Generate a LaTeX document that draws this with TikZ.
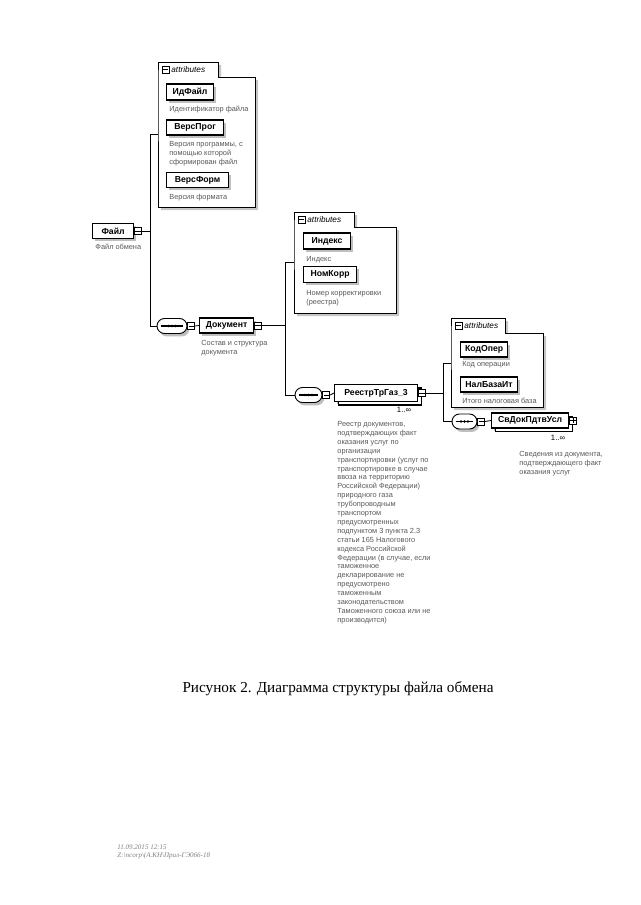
\documentclass[tikz,border=0pt]{standalone}
\usepackage{fontspec}
\setmainfont{Liberation Serif}
\setsansfont{Liberation Sans}
\usetikzlibrary{shapes.misc,shadows}

\newdimen\pxu \pxu=0.03cm

% small +/- square glued to the right of a box
\newcommand{\pmbox}[3]{%
  \node[pmsq] (#1) at (#2) {};
  \draw ([xshift=1.3\pxu]#1.west) -- ([xshift=-1.3\pxu]#1.east);
  \ifx#3+\draw ([yshift=-1.3\pxu]#1.north) -- ([yshift=1.3\pxu]#1.south);\fi
}
% line with three dots inside a sequence symbol
\newcommand{\seqdots}[1]{%
  \draw[line width=0.9pt] ([xshift=4\pxu]#1.west) -- ([xshift=-4\pxu]#1.east);
  \foreach \d in {-3.5,0,3.5} \fill ([xshift=\d\pxu]#1.center) circle (1.2pt);
}
% attributes frame: name, left, top, tab right, right, bottom
\newcommand{\attrbox}[6]{%
  \fill[gray!45] (#2+3,#3+3) -- (#4+3,#3+3) -- (#4+3,#3+18) -- (#5+3,#3+18)
    -- (#5+3,#6+3) -- (#2+3,#6+3) -- cycle;
  \draw[fill=white, line width=0.8pt] (#2,#3+15) -- (#2,#3) -- (#4,#3) -- (#4,#3+15)
    -- (#5,#3+15) -- (#5,#6) -- (#2,#6) -- cycle;
  \pmbox{#1m}{#2+4,#3+7.5}{-}
  \node[anchor=west, inner sep=0, font=\sffamily\itshape\fontsize{7}{8}\selectfont] (#1t) at (#2+13,#3+7.5) {attributes};
}

\begin{document}
\begin{tikzpicture}[x=0.03cm, y=-0.03cm, line width=0.7pt,
    elem/.style={draw, line width=1pt, fill=white, anchor=west, inner sep=0,
      minimum height=15\pxu, font=\sffamily\bfseries\fontsize{7.4}{9}\selectfont,
      drop shadow={shadow xshift=2pt, shadow yshift=-2.5pt, fill=gray!50, opacity=1}},
    multi/.style={elem, copy shadow={shadow xshift=3pt, shadow yshift=-3pt}},
    seq/.style={rounded rectangle, draw, fill=white, line width=0.8pt, inner sep=0,
      minimum height=15\pxu,
      drop shadow={shadow xshift=2pt, shadow yshift=-2.5pt, fill=gray!50, opacity=1}},
    pmsq/.style={draw, fill=white, line width=0.6pt, minimum size=7\pxu, inner sep=0, anchor=west},
    desc/.style={anchor=north west, inner sep=0, align=left, text=black!65,
      font=\sffamily\fontsize{6.3}{7.6}\selectfont},
    occ/.style={inner sep=0, font=\sffamily\fontsize{6.6}{8}\selectfont}]
  \useasboundingbox (0,0) rectangle (640,905);

  % spines
  \coordinate (sp1) at (150,0);
  \coordinate (sp2) at (285,0);
  \coordinate (sp3) at (443,0);
  \coordinate (att1) at (158,134);
  \coordinate (att2) at (294,262);
  \coordinate (att3) at (451,363);

  % root
  \node[elem, minimum width=41\pxu] (fajl) at (92,231) {Файл};
  \pmbox{fajlm}{fajl.east}{-}
  \node[desc] (fajld) at (95,244) {Файл обмена};

  % attributes of Файл
  \attrbox{a1}{158}{62}{218}{255}{207}
  \node[elem, minimum width=47\pxu, minimum height=16\pxu] (idf) at (166,92) {ИдФайл};
  \node[desc] (idfd) at (169,106) {Идентификатор файла};
  \node[elem, minimum width=57\pxu] (vprog) at (166,127.5) {ВерсПрог};
  \node[desc] (vprogd) at (169,141) {Версия программы, с\\помощью которой\\сформирован файл};
  \node[elem, minimum width=62\pxu] (vform) at (166,180) {ВерсФорм};
  \node[desc] (vformd) at (169,194) {Версия формата};

  % Документ
  \node[seq, minimum width=30\pxu] (seq1) at (172,326) {};
  \seqdots{seq1}
  \pmbox{seq1m}{seq1.east}{-}
  \node[elem, minimum width=54\pxu] (dok) at (199,325.5) {Документ};
  \pmbox{dokm}{dok.east}{-}
  \node[desc] (dokd) at (201,340) {Состав и структура\\документа};

  % attributes of Документ
  \attrbox{a2}{294}{212}{354}{396}{313}
  \node[elem, minimum width=47\pxu, minimum height=16\pxu] (ind) at (303,241) {Индекс};
  \node[desc] (indd) at (306,256) {Индекс};
  \node[elem, minimum width=53\pxu, minimum height=16\pxu] (nkor) at (303,274.5) {НомКорр};
  \node[desc] (nkord) at (306,290) {Номер корректировки\\(реестра)};

  % РеестрТрГаз_3
  \node[seq, minimum width=27\pxu] (seq2) at (308.5,395) {};
  \seqdots{seq2}
  \pmbox{seq2m}{seq2.east}{-}
  \node[multi, minimum width=83\pxu, minimum height=17\pxu] (reestr) at (334,393) {РеестрТрГаз\_3};
  \pmbox{reestrm}{reestr.east}{-}
  \node[occ] (reestro) at (404,410) {1..∞};
  \node[desc] (reestrd) at (337,421) {Реестр документов,\\подтверждающих факт\\оказания услуг по\\организации\\транспортировки (услуг по\\транспортировке в случае\\ввоза на территорию\\Российской Федерации)\\природного газа\\трубопроводным\\транспортом\\предусмотренных\\подпунктом 3 пункта 2.3\\статьи 165 Налогового\\кодекса Российской\\Федерации (в случае, если\\таможенное\\декларирование не\\предусмотрено\\таможенным\\законодательством\\Таможенного союза или не\\производится)};

  % attributes of РеестрТрГаз_3
  \attrbox{a3}{451}{318}{505}{543}{407}
  \node[elem, minimum width=47\pxu] (kodop) at (460,349.5) {КодОпер};
  \node[desc] (kodopd) at (462,361) {Код операции};
  \node[elem, minimum width=57\pxu] (nalb) at (460,384.5) {НалБазаИт};
  \node[desc] (nalbd) at (462,398) {Итого налоговая база};

  % СвДокПдтвУсл
  \node[seq, minimum width=25\pxu] (seq3) at (464.5,421.5) {};
  \seqdots{seq3}
  \pmbox{seq3m}{seq3.east}{-}
  \node[multi, minimum width=77\pxu] (svdok) at (491,420.5) {СвДокПдтвУсл};
  \pmbox{svdokm}{svdok.east}{+}
  \node[occ] (svdoko) at (558,438) {1..∞};
  \node[desc] (svdokd) at (519,451) {Сведения из документа,\\подтверждающего факт\\оказания услуг};

  % connectors
  \draw (fajlm.east) -- (fajlm.east -| sp1);
  \draw (att1) -- (att1 -| sp1) -- (seq1.west -| sp1) -- (seq1.west);
  \draw (seq1m.east) -- (dok.west);
  \draw (dokm.east) -- (dokm.east -| sp2);
  \draw (att2) -- (att2 -| sp2) -- (seq2.west -| sp2) -- (seq2.west);
  \draw (seq2m.east) -- (reestr.west);
  \draw (reestrm.east) -- (reestrm.east -| sp3);
  \draw (att3) -- (att3 -| sp3) -- (seq3.west -| sp3) -- (seq3.west);
  \draw (seq3m.east) -- (svdok.west);

  % caption and footer
  \node (cap) at (338,689) {\fontsize{13}{15}\selectfont Рисунок 2. Диаграмма структуры файла обмена};
  \node[anchor=north west, inner sep=0, align=left, text=gray, font=\itshape\fontsize{6}{7.5}\selectfont] (foot) at (117,844) {11.09.2015 12:15\\Z:\textbackslash ncorp\textbackslash (A.KH\textbackslash Прил-ГЭ066-18};
\end{tikzpicture}
\end{document}
